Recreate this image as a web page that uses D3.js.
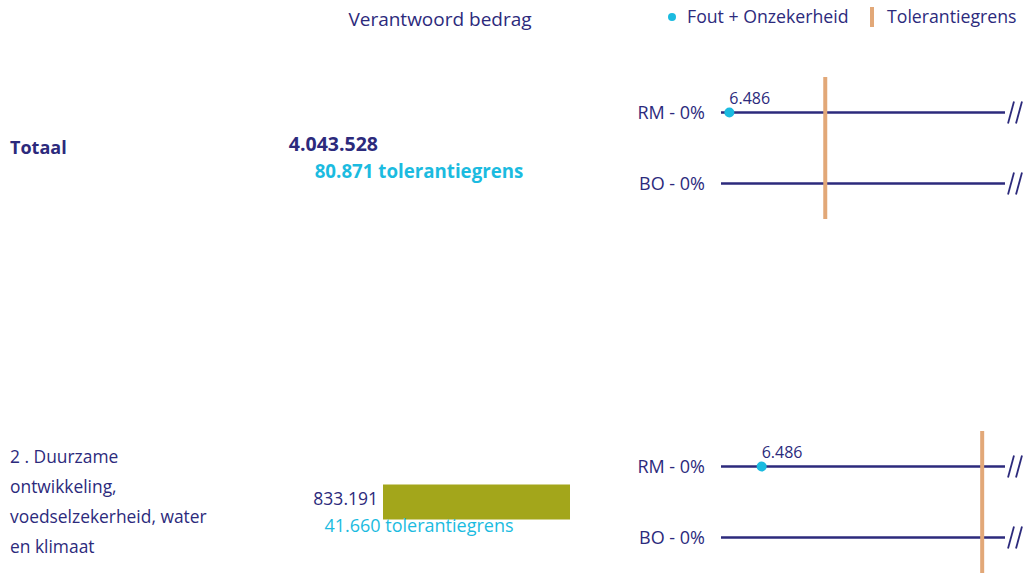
<!DOCTYPE html>
<html>
<head>
<meta charset="utf-8">
<script src="https://cdn.jsdelivr.net/npm/d3@7"></script>
<style>
  html, body { margin: 0; padding: 0; background: #fff; }
  svg { display: block; font-family: "Open Sans", sans-serif; }
</style>
</head>
<body>
<svg id="chart" width="1030" height="574"></svg>
<script>
// ---- data ----
const categories = ["Totaal", "2 . Duurzame ontwikkeling, voedselzekerheid, water en klimaat"];
const categoryLines = [["Totaal"], ["2 . Duurzame", "ontwikkeling,", "voedselzekerheid, water", "en klimaat"]];
const isTotal = [true, false];
const amounts = [4043528, 833191];
const tolerances = [80871, 41660];
const rowLabels = ["RM - 0%", "BO - 0%"];
const errorsRM = [6486, 6486];
const errorsBO = [null, null];
const axisMax = [220300, 45300];
const legendLabels = ["Fout + Onzekerheid", "Tolerantiegrens"];
const title = "Verantwoord bedrag";

// ---- styles ----
const NAVY = "#2c2a7c", CYAN = "#1bbbe0", ORANGE = "#e2a878", OLIVE = "#a3a61b";
const fmt = v => d3.format(",")(v).replace(/,/g, ".");

const svg = d3.select("#chart");

// title
svg.append("text").attr("x", 440).attr("y", 26).attr("text-anchor", "middle")
  .attr("font-size", 19).attr("fill", NAVY).text(title);

// legend
svg.append("circle").attr("cx", 672).attr("cy", 17).attr("r", 4).attr("fill", CYAN);
svg.append("text").attr("x", 687).attr("y", 23).attr("font-size", 17.7).attr("fill", NAVY).text(legendLabels[0]);
svg.append("rect").attr("x", 870).attr("y", 7).attr("width", 4).attr("height", 20).attr("fill", ORANGE);
svg.append("text").attr("x", 887).attr("y", 23).attr("font-size", 17.7).attr("fill", NAVY).text(legendLabels[1]);

// group positions
const yGroup = d3.scalePoint().domain(categories).range([148, 502]);
const yRow = d3.scalePoint().domain(rowLabels).range([-35.5, 35.5]);

// bar scale (non-total categories)
const maxAmount = d3.max(amounts.filter((d, i) => !isTotal[i]));
const xBar = d3.scaleLinear().domain([0, maxAmount]).range([383, 570]);

const lineX0 = 721, lineX1 = 1005;

categories.forEach((cat, i) => {
  const cy = yGroup(cat);
  const g = svg.append("g");

  // category label
  const lines = categoryLines[i];
  const lh = 30;
  const lt = g.append("text").attr("x", 10).attr("fill", NAVY)
    .attr("font-size", isTotal[i] ? 18 : 17.4)
    .attr("font-weight", isTotal[i] ? 700 : 400);
  lines.forEach((ln, k) => {
    lt.append("tspan").attr("x", 10)
      .attr("y", cy + (k - (lines.length - 1) / 2) * lh + 6).text(ln);
  });

  // bar
  if (!isTotal[i]) {
    g.append("rect").attr("x", xBar(0)).attr("y", cy - 17.5)
      .attr("width", xBar(amounts[i]) - xBar(0)).attr("height", 35).attr("fill", OLIVE);
  }

  // amount
  g.append("text").attr("x", 378).attr("y", cy - 3 + 6).attr("text-anchor", "end")
    .attr("font-size", isTotal[i] ? 19.5 : 17.5).attr("font-weight", isTotal[i] ? 700 : 400)
    .attr("fill", NAVY).text(fmt(amounts[i]));
  // tolerance text
  g.append("text").attr("x", 419).attr("y", cy + 24 + 6).attr("text-anchor", "middle")
    .attr("font-size", isTotal[i] ? 18.7 : 18).attr("font-weight", isTotal[i] ? 700 : 400)
    .attr("fill", CYAN).text(fmt(tolerances[i]) + " tolerantiegrens");

  // x scale for error panel
  const x = d3.scaleLinear().domain([0, axisMax[i]]).range([lineX0, lineX1]);

  rowLabels.forEach((rl, r) => {
    const ry = cy + yRow(rl);
    g.append("text").attr("x", 705).attr("y", ry + 6).attr("text-anchor", "end")
      .attr("font-size", 18).attr("fill", NAVY).text(rl);
    g.append("line").attr("x1", x(0)).attr("x2", x(axisMax[i]))
      .attr("y1", ry).attr("y2", ry).attr("stroke", NAVY).attr("stroke-width", 2.5);
    // break marks
    [0, 8].forEach(dx => {
      g.append("line").attr("x1", x(axisMax[i]) + 3 + dx).attr("x2", x(axisMax[i]) + 9 + dx)
        .attr("y1", ry + 11).attr("y2", ry - 11)
        .attr("stroke", NAVY).attr("stroke-width", 1.8);
    });
    const ev = r === 0 ? errorsRM[i] : errorsBO[i];
    if (ev != null) {
      g.append("circle").attr("cx", x(ev)).attr("cy", ry).attr("r", 5).attr("fill", CYAN);
      g.append("text").attr("x", x(ev)).attr("y", ry - 9).attr("font-size", 16)
        .attr("fill", NAVY).text(fmt(ev));
    }
  });

  // tolerance line
  g.append("line").attr("x1", x(tolerances[i])).attr("x2", x(tolerances[i]))
    .attr("y1", cy - 71).attr("y2", cy + 71)
    .attr("stroke", ORANGE).attr("stroke-width", 4);
});
</script>
</body>
</html>
